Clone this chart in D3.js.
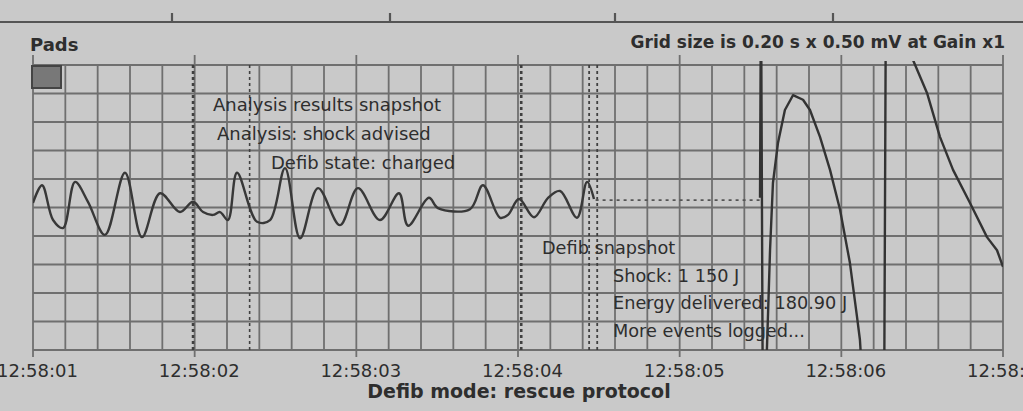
<!DOCTYPE html>
<html>
<head>
<meta charset="utf-8">
<script src="https://cdn.jsdelivr.net/npm/d3@7"></script>
<style>
  html, body { margin: 0; padding: 0; background: #cbcbcb; }
  svg { display: block; }
</style>
</head>
<body>
<script>
// ECG strip: time in seconds after 12:58:01, amplitude in mV
const tickLabels = ["12:58:01", "12:58:02", "12:58:03", "12:58:04", "12:58:05", "12:58:06", "12:58:07"];

const traceTime = [
  0.00, 0.056, 0.124, 0.186, 0.260, 0.340, 0.445, 0.569, 0.674, 0.786, 0.909, 0.990,
  1.052, 1.113, 1.157, 1.206, 1.262, 1.386, 1.466, 1.559, 1.652, 1.763, 1.899, 2.010,
  2.146, 2.264, 2.320, 2.449, 2.505, 2.703, 2.783, 2.889, 2.938, 3.006, 3.099, 3.186,
  3.260, 3.365, 3.427, 3.470
];
const traceMv = [
  0.08, 0.39, -0.22, -0.36, 0.45, 0.10, -0.48, 0.61, -0.52, 0.25, -0.08, 0.10,
  -0.08, -0.13, -0.08, -0.22, 0.61, -0.25, -0.22, 0.69, -0.54, 0.34, -0.31, 0.34,
  -0.22, 0.25, -0.32, 0.17, -0.01, -0.03, 0.39, -0.18, -0.13, 0.15, -0.17, 0.17,
  0.29, -0.18, 0.45, 0.15
];

// analysis pause, drawn dotted
const pauseTime = [3.48, 4.497];
const pauseMv = [0.13, 0.13];

// shock artefact and post-shock response (runs off scale)
const shockTime = [
  4.497, 4.503, 4.515, 4.534, 4.559, 4.577, 4.608, 4.651, 4.701, 4.763, 4.806, 4.868,
  4.930, 4.992, 5.053, 5.097, 5.115, 5.152, 5.264, 5.276, 5.412, 5.443, 5.530, 5.610,
  5.691, 5.796, 5.901, 5.963, 6.00
];
const shockMv = [
  0.17, 4.0, -4.0, -3.0, -0.75, 0.43, 1.13, 1.71, 1.97, 1.89, 1.71, 1.24,
  0.66, -0.04, -0.97, -1.92, -2.32, -4.0, -4.0, 4.0, 4.0, 2.59, 2.01, 1.24,
  0.66, 0.08, -0.52, -0.75, -1.04
];

// event markers (seconds)
const markerTime = [0.99, 1.34, 3.02, 3.44, 3.49];
const markerWeight = [2.6, 1.6, 2.6, 1.8, 1.8];

const upperNotes = ["Analysis results snapshot", "Analysis: shock advised", "Defib state: charged"];
const upperNoteX = [213, 217, 271];
const lowerNotes = ["Defib snapshot", "Shock: 1 150 J", "Energy delivered: 180.90 J", "More events logged..."];
const lowerNoteX = [542, 613, 613, 613];

const W = 1023, H = 411;
const plot = { left: 33, right: 1003, top: 65, bottom: 350 };

const svg = d3.select("body").append("svg").attr("width", W).attr("height", H);
svg.append("rect").attr("width", W).attr("height", H).attr("fill", "#c9c9c9");

const x = d3.scaleLinear().domain([0, 6]).range([plot.left, plot.right]);
const y = d3.scaleLinear().domain([-2.5, 2.5]).range([plot.bottom, plot.top]);

const ink = "#2e2e2e";
const gridInk = "#6f6f6f";
const font = "'DejaVu Sans', Verdana, sans-serif";

// top rule with small marks
svg.append("line").attr("x1", 0).attr("x2", W).attr("y1", 22).attr("y2", 22)
  .attr("stroke", "#555").attr("stroke-width", 2);
svg.selectAll("line.rulemark").data([172, 390, 615, 833]).join("line")
  .attr("class", "rulemark")
  .attr("x1", d => d).attr("x2", d => d).attr("y1", 13).attr("y2", 22)
  .attr("stroke", "#555").attr("stroke-width", 2.2);

// header text
svg.append("text").attr("x", 30).attr("y", 51).text("Pads")
  .attr("font-family", font).attr("font-size", 18).attr("font-weight", "bold").attr("fill", ink);
svg.append("text").attr("x", 1005).attr("y", 48).attr("text-anchor", "end")
  .text("Grid size is 0.20 s x 0.50 mV at Gain x1")
  .attr("font-family", font).attr("font-size", 17).attr("font-weight", "bold").attr("fill", ink);

// grid: 0.20 s columns, 0.50 mV rows
const grid = svg.append("g");
grid.selectAll("line.v").data(d3.range(0, 6.0001, 0.2)).join("line")
  .attr("class", "v")
  .attr("x1", d => x(d)).attr("x2", d => x(d))
  .attr("y1", (d, i) => i % 5 === 0 ? plot.top - 10 : plot.top)
  .attr("y2", (d, i) => i % 5 === 0 ? plot.bottom + 7 : plot.bottom)
  .attr("stroke", gridInk).attr("stroke-width", 1.8);
grid.selectAll("line.h").data(d3.range(-2.5, 2.5001, 0.5)).join("line")
  .attr("class", "h")
  .attr("x1", plot.left).attr("x2", plot.right)
  .attr("y1", d => y(d)).attr("y2", d => y(d))
  .attr("stroke", gridInk).attr("stroke-width", 1.8);

// calibration block
svg.append("rect").attr("x", 32).attr("y", 66).attr("width", 29).attr("height", 22)
  .attr("fill", "#787878").attr("stroke", "#444").attr("stroke-width", 2);

// event markers
svg.selectAll("line.marker").data(markerTime).join("line")
  .attr("class", "marker")
  .attr("x1", d => x(d)).attr("x2", d => x(d))
  .attr("y1", plot.top).attr("y2", plot.bottom)
  .attr("stroke", "#404040").attr("stroke-width", (d, i) => markerWeight[i])
  .attr("stroke-dasharray", "3,3");

// time axis
const axis = d3.axisBottom(x).tickValues(d3.range(0, 7)).tickFormat((d, i) => tickLabels[i]).tickSize(0);
const ax = svg.append("g").attr("transform", `translate(0,${plot.bottom})`).call(axis);
ax.select(".domain").remove();
ax.selectAll("text").attr("dy", 0).attr("y", 27).attr("dx", 4)
  .attr("font-family", font).attr("font-size", 18).attr("fill", ink);

// title
svg.append("text").attr("x", 519).attr("y", 398).attr("text-anchor", "middle")
  .text("Defib mode: rescue protocol")
  .attr("font-family", font).attr("font-size", 19).attr("font-weight", "bold").attr("fill", ink);

// annotations
svg.selectAll("text.upper").data(upperNotes).join("text")
  .attr("class", "upper")
  .attr("x", (d, i) => upperNoteX[i]).attr("y", (d, i) => 111 + i * 29)
  .text(d => d).attr("font-family", font).attr("font-size", 18).attr("fill", ink);
svg.selectAll("text.lower").data(lowerNotes).join("text")
  .attr("class", "lower")
  .attr("x", (d, i) => lowerNoteX[i]).attr("y", (d, i) => 254 + i * 27.7)
  .text(d => d).attr("font-family", font).attr("font-size", 17.7).attr("fill", ink);

// trace
svg.append("clipPath").attr("id", "plotclip").append("rect")
  .attr("x", plot.left).attr("y", plot.top - 4)
  .attr("width", plot.right - plot.left).attr("height", plot.bottom - plot.top + 4);

const line = d3.line().x(d => x(d[0])).y(d => y(d[1]));
const smooth = d3.line().x(d => x(d[0])).y(d => y(d[1])).curve(d3.curveCatmullRom.alpha(0.5));
const traceG = svg.append("g").attr("clip-path", "url(#plotclip)");

traceG.append("path").datum(d3.zip(traceTime, traceMv))
  .attr("d", smooth).attr("fill", "none").attr("stroke", "#383838")
  .attr("stroke-width", 2.4).attr("stroke-linejoin", "round");
traceG.append("path").datum(d3.zip(pauseTime, pauseMv))
  .attr("d", line).attr("fill", "none").attr("stroke", "#555")
  .attr("stroke-width", 1.6).attr("stroke-dasharray", "3,4");
traceG.append("path").datum(d3.zip(shockTime, shockMv))
  .attr("d", line).attr("fill", "none").attr("stroke", "#333")
  .attr("stroke-width", 2.4).attr("stroke-linejoin", "round");
</script>
</body>
</html>
